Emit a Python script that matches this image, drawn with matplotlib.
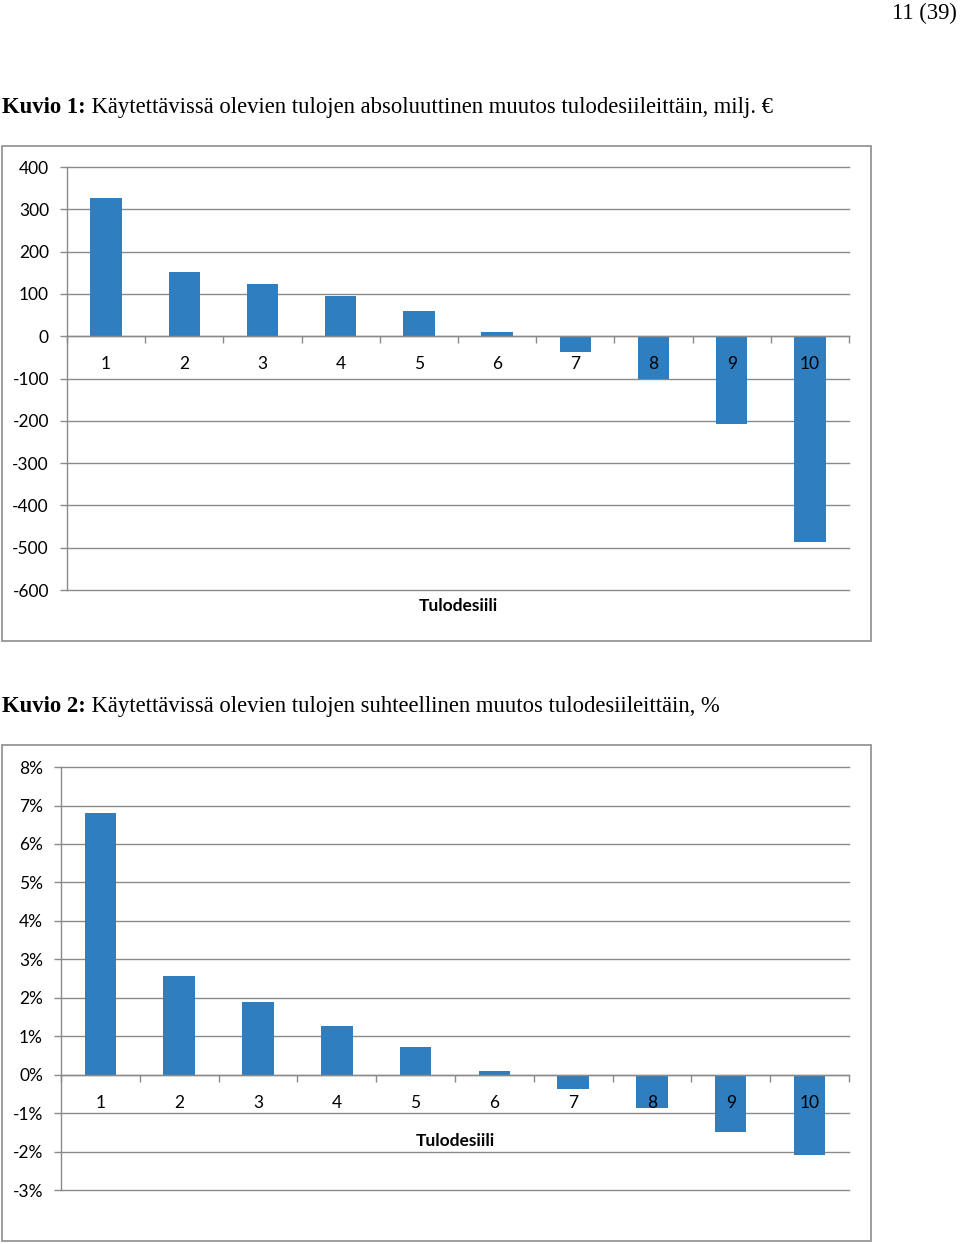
import numpy as np
import matplotlib
matplotlib.use("Agg")
import matplotlib.pyplot as plt
import matplotlib.ticker as mticker
from matplotlib.patches import Rectangle
from matplotlib.text import Annotation


DECILES = ["1", "2", "3", "4", "5", "6", "7", "8", "9", "10"]
ABS_CHANGE = [326, 151, 123, 95, 59, 9, -38, -102, -208, -487]   # milj. €
REL_CHANGE = [6.8, 2.57, 1.9, 1.27, 0.73, 0.1, -0.36, -0.86, -1.48, -2.08]   # %

TITLE1_BOLD = "Kuvio 1:"
TITLE1_REST = " Käytettävissä olevien tulojen absoluuttinen muutos tulodesiileittäin, milj. €"
TITLE2_BOLD = "Kuvio 2:"
TITLE2_REST = " Käytettävissä olevien tulojen suhteellinen muutos tulodesiileittäin, %"
XLABEL = "Tulodesiili"
PAGE_NO = "11 (39)"

BAR_COLOR = "#2E7EC0"
GRID_COLOR = "#8A8A8A"
LABEL_FONT = "Lato"
SERIF_FONT = "Liberation Serif"
TITLE_SIZE = 16.3


def style_axes(ax, values, ylim, yticks, fmt, xlabel_y):
    x = np.arange(len(values))
    ax.bar(x, values, width=0.4, color=BAR_COLOR, zorder=3)
    ax.set_xlim(-0.5, len(values) - 0.5)
    ax.set_ylim(*ylim)
    ax.set_yticks(yticks)
    ax.yaxis.set_major_formatter(fmt)
    ax.grid(axis="y", color=GRID_COLOR, linewidth=1.0)
    for line in ax.get_ygridlines():
        line.set_clip_on(False)
    ax.set_axisbelow(True)
    # category labels sit on top of the bars, as in the original
    ax.xaxis.set_zorder(4)

    for side in ["top", "right"]:
        ax.spines[side].set_visible(False)
    ax.spines["left"].set_color(GRID_COLOR)
    ax.spines["left"].set_linewidth(1.0)
    ax.spines["bottom"].set_position(("data", 0))
    ax.spines["bottom"].set_color(GRID_COLOR)
    ax.spines["bottom"].set_linewidth(1.0)
    ax.spines["bottom"].set_zorder(4)

    # tick marks on category boundaries, labels at category centres
    ax.set_xticks(np.arange(-0.5, len(values), 1.0))
    ax.set_xticklabels([])
    ax.set_xticks(x, minor=True)
    ax.set_xticklabels(DECILES, minor=True)
    ax.tick_params(axis="x", which="major", length=5, width=1.0, color=GRID_COLOR, direction="out")
    ax.tick_params(axis="x", which="minor", length=0, pad=14.5, labelsize=12.5)
    ax.tick_params(axis="y", length=5, width=1.0, color=GRID_COLOR, pad=8, labelsize=12.5)
    for lab in ax.get_xticklabels(minor=True) + ax.get_yticklabels():
        lab.set_fontfamily(LABEL_FONT)

    ax.set_xlabel(XLABEL, fontsize=12.5, fontweight="bold", fontfamily=LABEL_FONT)
    ax.xaxis.set_label_coords(0.5, xlabel_y)


def title(fig, y, bold, rest):
    t1 = fig.text(0.002, y, bold, fontsize=TITLE_SIZE, fontweight="bold",
                  fontfamily=SERIF_FONT, ha="left", va="bottom")
    t2 = Annotation(rest, xy=(1, 0), xycoords=t1, fontsize=TITLE_SIZE,
                    fontfamily=SERIF_FONT, ha="left", va="bottom",
                    annotation_clip=False)
    fig.add_artist(t2)


def main():
    fig = plt.figure(figsize=(9.6, 12.44), dpi=100)

    fig.text(0.997, 0.998, PAGE_NO, fontsize=TITLE_SIZE, fontfamily=SERIF_FONT,
             ha="right", va="top")

    # outer chart frames
    fig.add_artist(Rectangle((0.0021, 0.4847), 0.905, 0.3979, transform=fig.transFigure,
                             fill=False, edgecolor="#8C8C8C", linewidth=1.2))
    fig.add_artist(Rectangle((0.0021, 0.0024), 0.905, 0.3987, transform=fig.transFigure,
                             fill=False, edgecolor="#8C8C8C", linewidth=1.2))

    title(fig, 0.9055, TITLE1_BOLD, TITLE1_REST)
    title(fig, 0.4235, TITLE2_BOLD, TITLE2_REST)

    ax1 = fig.add_axes([0.0698, 0.5257, 0.8146, 0.3400])
    style_axes(ax1, ABS_CHANGE, (-600, 400), np.arange(-600, 401, 100),
               mticker.FormatStrFormatter("%d"), -0.02)

    ax2 = fig.add_axes([0.0635, 0.0434, 0.8208, 0.3400])
    style_axes(ax2, REL_CHANGE, (-3, 8), np.arange(-3, 9, 1),
               mticker.FuncFormatter(lambda v, p: f"{v:.0f}%"), 0.135)

    fig.savefig("out.png", dpi=100)
    plt.close(fig)


if __name__ == "__main__":
    main()
